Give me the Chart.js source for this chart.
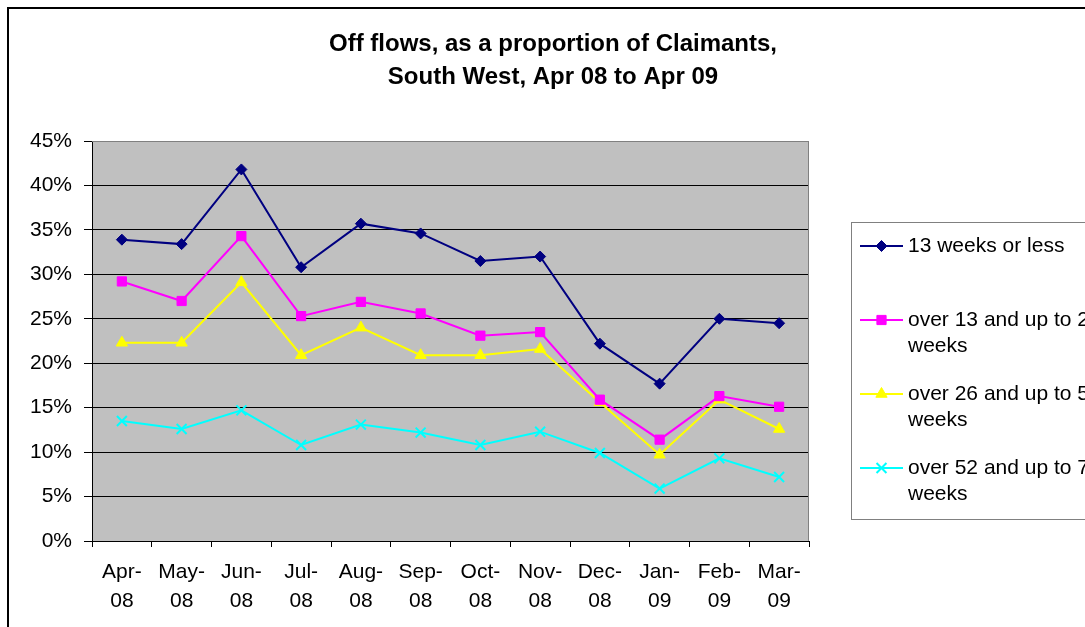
<!DOCTYPE html>
<html>
<head>
<meta charset="utf-8">
<script src="https://cdn.jsdelivr.net/npm/chart.js@4/dist/chart.umd.min.js"></script>
<style>
    body { margin: 0; background: #fff; }
    canvas { display: block; }
</style>
</head>
<body>
<canvas id="offFlowsChart" width="1085" height="627"></canvas>
<script>
const months = ["Apr-08", "May-08", "Jun-08", "Jul-08", "Aug-08", "Sep-08",
    "Oct-08", "Nov-08", "Dec-08", "Jan-09", "Feb-09", "Mar-09"];

const weeks13OrLess = [33.9, 33.4, 41.8, 30.8, 35.7, 34.6, 31.5, 32.0, 22.2, 17.7, 25.0, 24.5];
const weeks13To26 = [29.2, 27.0, 34.3, 25.3, 26.9, 25.6, 23.1, 23.5, 15.9, 11.4, 16.3, 15.1];
const weeks26To52 = [22.3, 22.3, 29.1, 20.9, 24.0, 20.9, 20.9, 21.6, 15.6, 9.7, 15.9, 12.6];
const weeks52To78 = [13.5, 12.6, 14.7, 10.8, 13.1, 12.2, 10.8, 12.3, 9.9, 5.9, 9.3, 7.2];

const seriesNames = ["13 weeks or less", "over 13 and up to 26 weeks",
    "over 26 and up to 52 weeks", "over 52 and up to 78 weeks"];

const titleLines = ["Off flows, as a proportion of Claimants,", "South West, Apr 08 to Apr 09"];

const FONT_FAMILY = "'Liberation Sans', Arial, sans-serif";
const PLOT_COLOR = "#C0C0C0";

Chart.defaults.color = "#000";
Chart.defaults.font.family = FONT_FAMILY;
Chart.defaults.font.size = 21;

// grey plot area, frame and title
const backdropPlugin = {
    id: "backdrop",
    beforeDraw(chart) {
        let ctx = chart.ctx;
        let area = chart.chartArea;
        ctx.save();
        ctx.fillStyle = "#fff";
        ctx.fillRect(0, 0, chart.width, chart.height);
        ctx.fillStyle = PLOT_COLOR;
        ctx.fillRect(area.left, area.top, area.right - area.left, area.bottom - area.top);

        ctx.strokeStyle = "#000";
        ctx.lineWidth = 2;
        ctx.strokeRect(8, 8, chart.width + 20, chart.height + 20);

        ctx.font = "bold 24px " + FONT_FAMILY;
        ctx.fillStyle = "#000";
        ctx.textAlign = "center";
        ctx.textBaseline = "middle";
        ctx.fillText(titleLines[0], 553, 44);
        ctx.fillText(titleLines[1], 553, 77);
        ctx.restore();
    },
    beforeDatasetsDraw(chart) {
        let ctx = chart.ctx;
        let area = chart.chartArea;
        ctx.save();
        ctx.strokeStyle = "#808080";
        ctx.lineWidth = 1;
        ctx.beginPath();
        ctx.moveTo(area.left, area.top + 0.5);
        ctx.lineTo(area.right - 0.5, area.top + 0.5);
        ctx.lineTo(area.right - 0.5, area.bottom);
        ctx.stroke();
        ctx.restore();
    },
};

// legend box on the right, with wrapped labels
const sideLegendPlugin = {
    id: "sideLegend",
    afterDraw(chart) {
        let ctx = chart.ctx;
        ctx.save();
        ctx.fillStyle = "#fff";
        ctx.fillRect(851, 222, 300, 297);
        ctx.strokeStyle = "#808080";
        ctx.lineWidth = 1;
        ctx.strokeRect(851.5, 222.5, 300, 297);

        ctx.font = "21px " + FONT_FAMILY;
        ctx.textAlign = "left";
        ctx.textBaseline = "middle";

        chart.data.datasets.forEach(function (ds, i) {
            let y = 246 + i * 74;
            ctx.strokeStyle = ds.borderColor;
            ctx.fillStyle = ds.backgroundColor;
            ctx.lineWidth = ds.borderWidth;
            ctx.beginPath();
            ctx.moveTo(860, y);
            ctx.lineTo(903, y);
            ctx.stroke();

            ctx.lineWidth = ds.pointBorderWidth;
            Chart.helpers.drawPoint(ctx, {
                pointStyle: ds.pointStyle,
                radius: ds.pointRadius,
                borderWidth: ds.pointBorderWidth,
                rotation: 0,
            }, 881.5, y);

            let lines = [];
            let line = "";
            ds.label.split(" ").forEach(function (word) {
                let test = line ? line + " " + word : word;
                if (line && ctx.measureText(test).width > 220) {
                    lines.push(line);
                    line = word;
                } else {
                    line = test;
                }
            });
            lines.push(line);

            ctx.fillStyle = "#000";
            lines.forEach(function (text, j) {
                ctx.fillText(text, 908, y + j * 26);
            });
        });
        ctx.restore();
    },
};

function makeDataset(label, data, color, pointStyle, radius) {
    return {
        label: label,
        data: data,
        borderColor: color,
        backgroundColor: color,
        borderWidth: 2,
        pointStyle: pointStyle,
        pointRadius: radius,
        pointHoverRadius: radius,
        pointBorderWidth: 1,
        tension: 0,
    };
}

let datasets = [];
datasets.push(makeDataset(seriesNames[0], weeks13OrLess, "#000080", "rectRot", 5.5));
datasets.push(makeDataset(seriesNames[1], weeks13To26, "#FF00FF", "rect", 6.5));
datasets.push(makeDataset(seriesNames[2], weeks26To52, "#FFFF00", "triangle", 6.5));
let crossSet = makeDataset(seriesNames[3], weeks52To78, "#00FFFF", "crossRot", 7);
crossSet.pointBorderWidth = 2;
datasets.push(crossSet);

let canvas = document.getElementById("offFlowsChart");
let chart = new Chart(canvas, {
    type: "line",
    data: {
        labels: months,
        datasets: datasets,
    },
    options: {
        responsive: false,
        animation: false,
        layout: {
            padding: { left: 0, top: 141, right: 276, bottom: 0 },
        },
        plugins: {
            legend: { display: false },
            title: { display: false },
            tooltip: { enabled: false },
        },
        scales: {
            x: {
                offset: true,
                afterFit: function (scale) { scale.height = 86; },
                grid: {
                    offset: true,
                    drawOnChartArea: false,
                    drawTicks: true,
                    tickLength: 6,
                    color: "#000",
                },
                border: { color: "#000", width: 1 },
                ticks: {
                    maxRotation: 0,
                    autoSkip: false,
                    padding: 11,
                    font: { size: 21, lineHeight: 1.38 },
                    callback: function (value, index) {
                        let parts = months[index].split("-");
                        return [parts[0] + "-", parts[1]];
                    },
                },
            },
            y: {
                min: 0,
                max: 45,
                afterFit: function (scale) { scale.width = 92; },
                grid: {
                    color: function (c) { return c.tick && c.tick.value === 45 ? "#808080" : "#000"; },
                    tickColor: "#000",
                    tickLength: 8,
                    lineWidth: 1,
                },
                border: { color: "#000", width: 1 },
                ticks: {
                    stepSize: 5,
                    padding: 12,
                    font: { size: 21 },
                    callback: function (value) { return value + "%"; },
                },
            },
        },
    },
    plugins: [backdropPlugin, sideLegendPlugin],
});
</script>
</body>
</html>
